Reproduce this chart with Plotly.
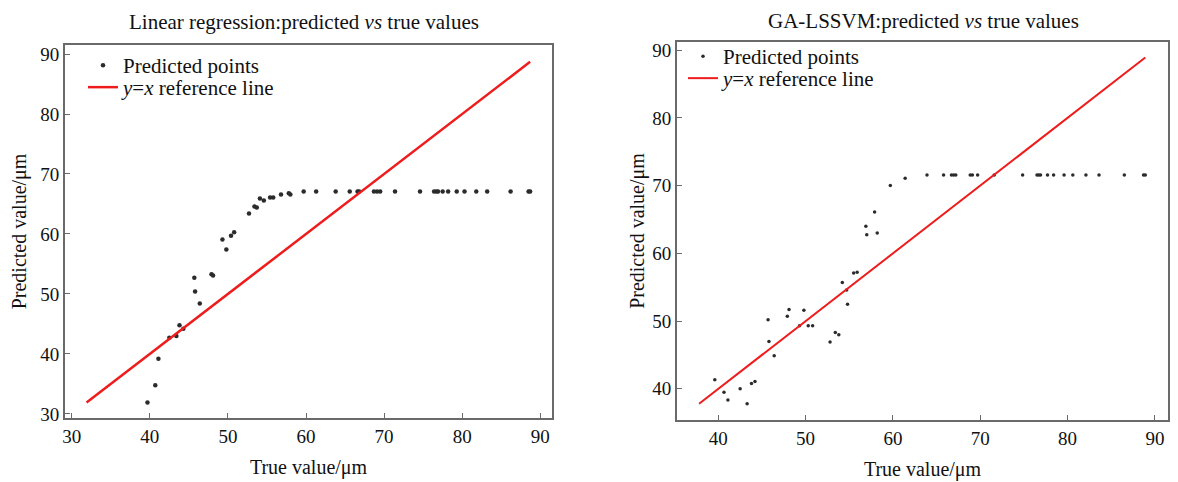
import plotly.graph_objects as go

# ---- data ----
lr_true = [39.7, 40.7, 41.1, 42.5, 43.4, 43.8, 44.3, 45.7, 45.8, 46.4, 47.9, 48.1, 49.3, 49.8,
           50.4, 50.8, 52.7, 53.4, 53.7, 54.1, 54.6, 55.4, 55.8, 56.8, 57.8, 58.0, 59.7, 61.3,
           63.8, 65.6, 66.6, 66.8, 68.7, 69.1, 69.5, 71.4, 74.6, 76.4, 76.7, 76.9, 77.5, 78.2,
           79.3, 80.3, 81.8, 83.2, 86.2, 88.5, 88.7]
lr_pred = [31.9, 34.8, 39.2, 42.7, 43.0, 44.8, 44.2, 52.7, 50.4, 48.4, 53.3, 53.1, 59.1, 57.4,
           59.7, 60.3, 63.4, 64.6, 64.4, 65.9, 65.6, 66.1, 66.1, 66.6, 66.8, 66.6, 67.1, 67.1,
           67.1, 67.1, 67.1, 67.1, 67.1, 67.1, 67.1, 67.1, 67.1, 67.1, 67.1, 67.1, 67.1, 67.1,
           67.1, 67.1, 67.1, 67.1, 67.1, 67.1, 67.1]
lr_ref = [31.9, 88.7]

gl_true = [39.6, 40.65, 41.1, 42.5, 43.3, 43.8, 44.2, 45.7, 45.8, 46.4, 47.9, 48.1, 49.3, 49.8,
           50.3, 50.8, 52.8, 53.4, 53.8, 54.2, 54.7, 54.8, 55.5, 55.9, 56.9, 57.0, 57.9, 58.2,
           59.7, 61.4, 63.9, 65.8, 66.7, 66.95, 67.2, 68.85, 69.1, 69.7, 71.6, 74.85, 76.5, 76.7,
           76.9, 77.7, 78.4, 79.6, 80.6, 82.1, 83.6, 86.5, 88.7, 88.9]
gl_pred = [41.35, 39.5, 38.35, 40.0, 37.8, 40.8, 41.1, 50.2, 47.0, 44.9, 50.7, 51.7, 49.3, 51.6,
           49.3, 49.3, 46.9, 48.3, 48.0, 55.7, 54.6, 52.5, 57.1, 57.2, 64.0, 62.75, 66.1, 63.0,
           70.0, 71.1, 71.55, 71.55, 71.55, 71.55, 71.55, 71.55, 71.55, 71.55, 71.55, 71.55, 71.55, 71.55,
           71.55, 71.55, 71.55, 71.55, 71.55, 71.55, 71.55, 71.55, 71.55, 71.55]
gl_ref = [37.8, 88.9]

x_ticks_lr = [30, 40, 50, 60, 70, 80, 90]
y_ticks_lr = [30, 40, 50, 60, 70, 80, 90]
x_ticks_gl = [40, 50, 60, 70, 80, 90]
y_ticks_gl = [40, 50, 60, 70, 80, 90]

FONT = "Liberation Serif, Times New Roman, serif"
W, H = 1178, 482
DOT = "#2b2b2b"
RED = "#ee1c1c"
FRAME = "#6a6a6a"
TXT = "#111"

fig = go.Figure()
fig.add_trace(go.Scatter(x=lr_true, y=lr_pred, mode="markers", name="Predicted points",
                         marker=dict(size=4.5, color=DOT), xaxis="x", yaxis="y", legend="legend"))
fig.add_trace(go.Scatter(x=lr_ref, y=lr_ref, mode="lines", name="<i>y</i>=<i>x</i> reference line",
                         line=dict(color=RED, width=2.5), xaxis="x", yaxis="y", legend="legend2"))
fig.add_trace(go.Scatter(x=gl_true, y=gl_pred, mode="markers", name="Predicted points",
                         marker=dict(size=3.5, color=DOT), xaxis="x2", yaxis="y2", legend="legend3"))
fig.add_trace(go.Scatter(x=gl_ref, y=gl_ref, mode="lines", name="<i>y</i>=<i>x</i> reference line",
                         line=dict(color=RED, width=2), xaxis="x2", yaxis="y2", legend="legend4"))

def ax(dom, rng, ticks, title, anchor, standoff):
    return dict(domain=dom, range=rng, tickvals=ticks, ticks="inside", ticklen=5, tickwidth=1.2,
                tickcolor=FRAME, showline=True, linecolor=FRAME, linewidth=1.8, mirror=True,
                showgrid=False, zeroline=False, anchor=anchor,
                tickfont=dict(family=FONT, size=19, color=TXT),
                title=dict(text=title, font=dict(family=FONT, size=20, color=TXT), standoff=standoff),
                automargin=False)

def leg(xpx, ypx):
    return dict(x=xpx / W, y=(H - ypx) / H, xanchor="left", yanchor="top", bgcolor="rgba(0,0,0,0)",
                font=dict(family=FONT, size=21, color=TXT), tracegroupgap=0, itemwidth=30)

fig.update_layout(
    width=W, height=H, margin=dict(l=0, r=0, t=0, b=0),
    paper_bgcolor="white", plot_bgcolor="white",
    xaxis=ax([65 / W, 552 / W], [29.14, 91.5], x_ticks_lr, "True value/μm", "y", 14),
    yaxis=ax([(H - 418) / H, (H - 45) / H], [29.33, 91.5], y_ticks_lr, "Predicted value/μm", "x", 8),
    xaxis2=ax([677 / W, 1168 / W], [35.27, 91.5], x_ticks_gl, "True value/μm", "y2", 14),
    yaxis2=ax([(H - 420) / H, (H - 42) / H], [35.4, 91.2], y_ticks_gl, "Predicted value/μm", "x2", 2),
    legend=leg(83, 45),
    legend2=leg(83, 67),
    legend3=leg(683, 36),
    legend4=leg(683, 58),
    showlegend=True,
    annotations=[
        dict(text="Linear regression:predicted <i>vs</i> true values", x=304 / W, y=(H - 22) / H,
             xref="paper", yref="paper", xanchor="center", yanchor="middle", showarrow=False,
             font=dict(family=FONT, size=21, color=TXT)),
        dict(text="GA-LSSVM:predicted <i>vs</i> true values", x=923 / W, y=(H - 21) / H,
             xref="paper", yref="paper", xanchor="center", yanchor="middle", showarrow=False,
             font=dict(family=FONT, size=21, color=TXT)),
    ],
)

fig.write_html("out.html")
